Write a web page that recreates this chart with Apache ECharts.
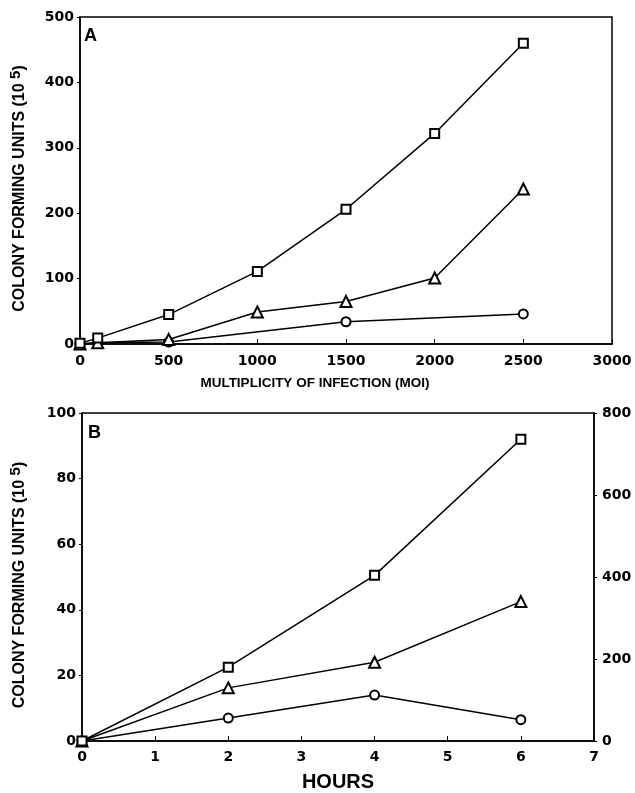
<!DOCTYPE html>
<html>
<head>
<meta charset="utf-8">
<script src="https://cdn.jsdelivr.net/npm/echarts@6/dist/echarts.min.js"></script>
<style>
  html, body { margin: 0; padding: 0; background: #fff; }
  #chart { width: 635px; height: 793px; }
</style>
</head>
<body>
<div id="chart"></div>
<script>
// panel A: CFU vs multiplicity of infection
var moi = [0, 100, 500, 1000, 1500, 2000, 2500];
var aSquare = [1, 9, 45, 111, 206, 322, 460];
var aTriangle = [0, 2, 7, 49, 65, 101, 237];
var circleMoi = [0, 100, 500, 1500, 2500];
var aCircle = [0, 2, 3, 34, 46];

// panel B: CFU vs time
var hours = [0, 2, 4, 6];
var bSquare = [0, 22.5, 50.5, 92];
var bTriangle = [0, 16.2, 24, 42.5];
var bCircle = [0, 7, 14, 6.5];

function pairs(xs, ys) {
    var res = [];
    for (var i = 0; i < xs.length; i++) res.push([xs[i], ys[i]]);
    return res;
}

var myChart = echarts.init(document.getElementById('chart'));

var plain = function (v) { return String(v); };
var tickFont = { color: '#000', fontFamily: 'DejaVu Sans', fontWeight: 'bold', fontSize: 14, formatter: plain };
var nameFont = { color: '#000', fontFamily: 'Liberation Sans', fontWeight: 'bold', fontSize: 13.5, padding: [0, 62, 0, 0] };
var axisLine = { show: true, lineStyle: { color: '#000', width: 1.5 } };
var yName = '{a|COLONY FORMING UNITS (10 }{s|5}{a|)}';
var yNameStyle = {
    color: '#000', fontFamily: 'Liberation Sans', fontWeight: 'bold', fontSize: 16,
    padding: [0, 16, 0, 0],
    rich: {
        a: { fontFamily: 'Liberation Sans', fontWeight: 'bold', fontSize: 16, color: '#000' },
        s: { fontFamily: 'Liberation Sans', fontWeight: 'bold', fontSize: 15, color: '#000', padding: [0, 0, 9, 0] }
    }
};

function line(name, data, symbol, xi, yi) {
    return {
        name: name,
        type: 'line',
        xAxisIndex: xi,
        yAxisIndex: yi,
        data: data,
        symbol: symbol,
        symbolSize: symbol == 'emptyTriangle' ? 11 : 9,
        showAllSymbol: true,
        lineStyle: { color: '#000', width: 1.5 },
        itemStyle: { color: '#000', borderWidth: 1.3 },
        animation: false
    };
}

var option = {
    backgroundColor: '#fff',
    grid: [
        { left: 78, top: 17, width: 534, height: 327, show: true, borderColor: '#000', borderWidth: 1.5 },
        { left: 80, top: 413, width: 514, height: 329, show: true, borderColor: '#000', borderWidth: 1.5 }
    ],
    xAxis: [
        {
            gridIndex: 0, type: 'value', min: 0, max: 3000, interval: 500,
            name: 'MULTIPLICITY OF INFECTION (MOI)', nameLocation: 'middle', nameGap: 32,
            nameTextStyle: nameFont,
            axisLine: axisLine,
            axisTick: { show: true, inside: true, length: 5, lineStyle: { color: '#000' } },
            axisLabel: Object.assign({ margin: 10 }, tickFont),
            splitLine: { show: false }
        },
        {
            gridIndex: 1, type: 'value', min: 0, max: 7, interval: 1,
            name: 'HOURS', nameLocation: 'middle', nameGap: 31,
            nameTextStyle: { color: '#000', fontFamily: 'Liberation Sans', fontWeight: 'bold', fontSize: 20 },
            axisLine: axisLine,
            axisTick: { show: true, inside: true, length: 5, lineStyle: { color: '#000' } },
            axisLabel: Object.assign({ margin: 9 }, tickFont),
            splitLine: { show: false }
        }
    ],
    yAxis: [
        {
            gridIndex: 0, type: 'value', min: 0, max: 500, interval: 100,
            name: yName, nameLocation: 'middle', nameGap: 48, nameRotate: 90,
            nameTextStyle: yNameStyle,
            axisLine: axisLine,
            axisTick: { show: true, length: 3, lineStyle: { color: '#000' } },
            axisLabel: Object.assign({ margin: 6 }, tickFont),
            splitLine: { show: false }
        },
        {
            gridIndex: 1, type: 'value', min: 0, max: 100, interval: 20,
            name: yName, nameLocation: 'middle', nameGap: 50, nameRotate: 90,
            nameTextStyle: yNameStyle,
            axisLine: axisLine,
            axisTick: { show: true, length: 3, lineStyle: { color: '#000' } },
            axisLabel: Object.assign({ margin: 6 }, tickFont),
            splitLine: { show: false }
        },
        {
            gridIndex: 1, type: 'value', position: 'right', min: 0, max: 800, interval: 200,
            axisLine: axisLine,
            axisTick: { show: true, length: 3, lineStyle: { color: '#000' } },
            axisLabel: Object.assign({ margin: 8 }, tickFont),
            splitLine: { show: false }
        }
    ],
    graphic: [
        { type: 'text', left: 84, top: 27, style: { text: 'A', fill: '#000', font: 'bold 18px "Liberation Sans"' } },
        { type: 'text', left: 88, top: 424, style: { text: 'B', fill: '#000', font: 'bold 18px "Liberation Sans"' } }
    ],
    series: [
        line('A circle', pairs(circleMoi, aCircle), 'emptyCircle', 0, 0),
        line('A triangle', pairs(moi, aTriangle), 'emptyTriangle', 0, 0),
        line('A square', pairs(moi, aSquare), 'emptyRect', 0, 0),
        line('B circle', pairs(hours, bCircle), 'emptyCircle', 1, 1),
        line('B triangle', pairs(hours, bTriangle), 'emptyTriangle', 1, 1),
        line('B square', pairs(hours, bSquare), 'emptyRect', 1, 1)
    ]
};

myChart.setOption(option);
</script>
</body>
</html>
